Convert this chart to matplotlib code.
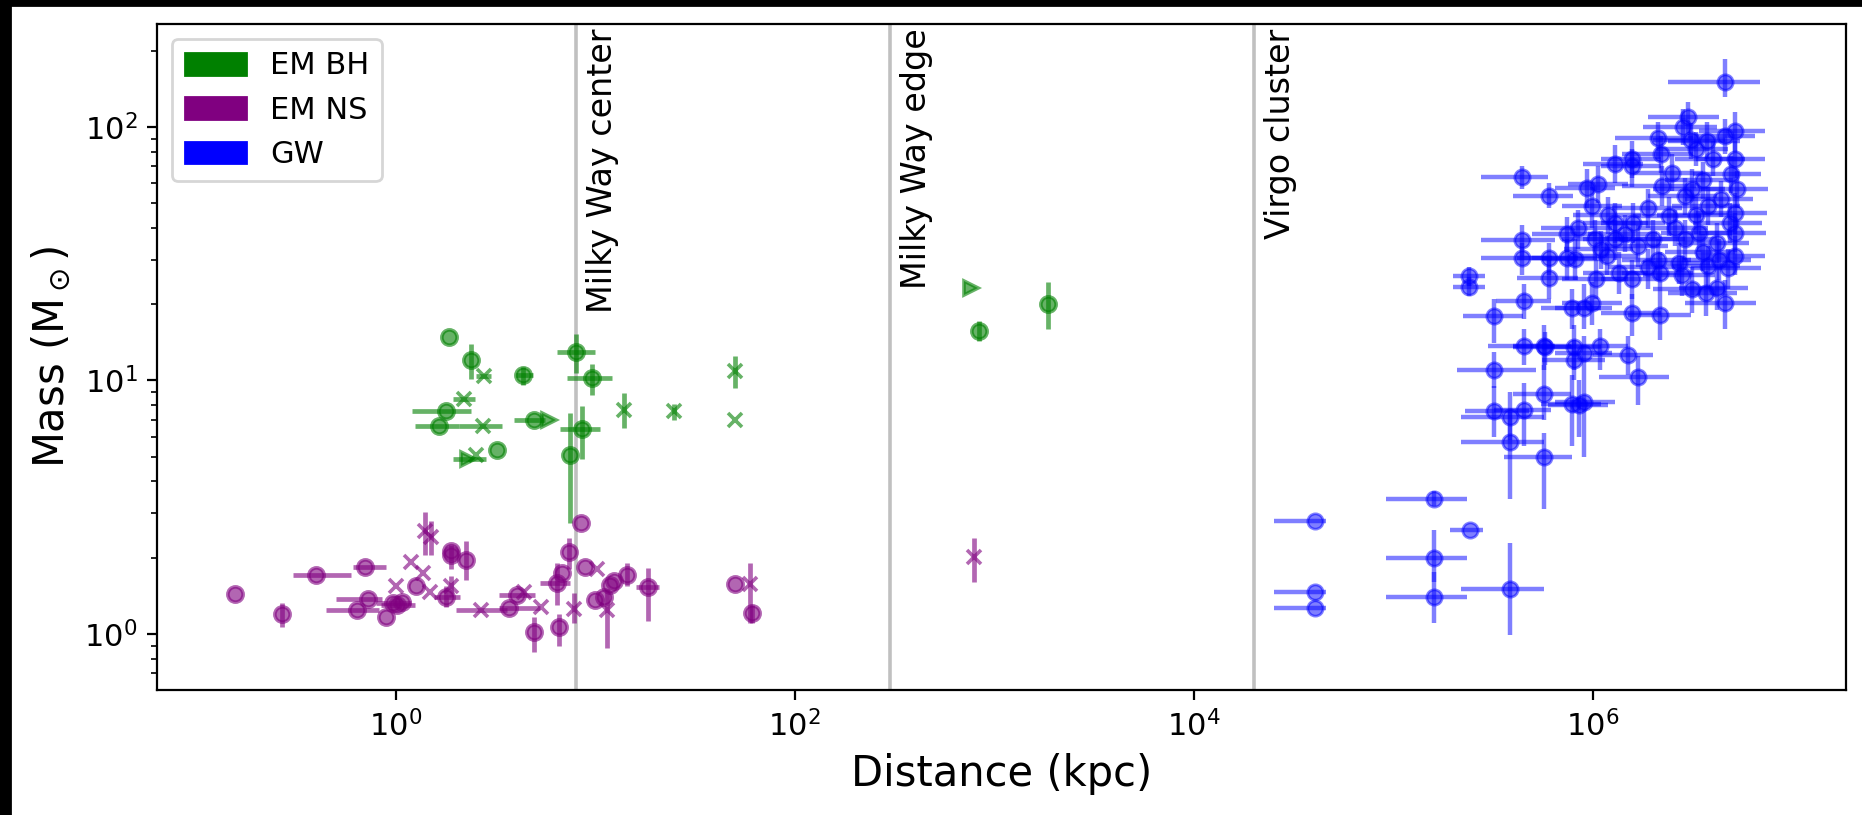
import numpy as np
import matplotlib
matplotlib.use("Agg")
import matplotlib.pyplot as plt
from matplotlib.patches import Patch, Rectangle
from matplotlib.ticker import NullLocator

# ---------------- data (distance in kpc, mass in solar masses) ----------------
# EM black holes
bh_dist = [1.86, 2.39, 2.78, 4.36, 8.05, 9.68, 2.21, 1.79, 1.66, 2.73, 4.95, 5.88,
           8.63, 7.48, 2.3, 2.53, 3.21, 14.0, 25.0, 50.3, 50.3, 766, 843, 1860]
bh_mass = [14.9, 12.0, 10.4, 10.5, 12.9, 10.2, 8.48, 7.61, 6.6, 6.6, 6.97, 6.97,
           6.44, 5.1, 4.9, 5.07, 5.3, 7.68, 7.56, 10.9, 7.0, 23.1, 15.7, 20.1]
bh_marker = ['o', 'o', 'x', 'o', 'o', 'o', 'x', 'o', 'o', 'x', 'o', '>',
             'o', 'o', '>', 'x', 'o', 'x', 'x', 'x', 'x', '>', 'o', 'o']
# points with distance / mass error bars: index, lower, upper
bh_xerr_idx = [2, 3, 4, 5, 6, 7, 8, 9, 10, 12, 14]
bh_xerr_lo = [2.53, 4.0, 6.45, 7.2, 1.95, 1.21, 1.25, 2.09, 3.93, 6.67, 1.93]
bh_xerr_hi = [3.0, 4.9, 10.05, 12.1, 2.5, 2.39, 2.09, 3.41, 5.6, 10.6, 2.84]
bh_yerr_idx = [1, 3, 4, 5, 12, 13, 17, 18, 19, 22, 23]
bh_yerr_lo = [10.1, 9.6, 10.7, 8.8, 4.9, 2.75, 6.5, 7.0, 9.35, 14.3, 15.9]
bh_yerr_hi = [13.9, 11.3, 15.2, 11.6, 7.9, 7.45, 8.93, 8.1, 12.5, 17.2, 24.4]

# EM neutron stars
ns_dist = [0.157, 0.269, 0.40, 0.70, 0.73, 0.64, 0.90, 0.97, 1.02, 1.08, 1.27, 1.00,
           1.20, 1.37, 1.40, 1.51, 1.48, 1.90, 1.90, 2.25, 1.79, 1.90, 2.68, 3.71,
           4.08, 4.40, 5.35, 4.95, 6.60, 6.47, 6.85, 7.40, 8.46, 7.80, 8.95, 10.2,
           10.05, 11.05, 11.95, 12.4, 11.5, 14.4, 18.4, 50.3, 59.8, 61.0, 795]
ns_mass = [1.44, 1.20, 1.71, 1.83, 1.37, 1.24, 1.17, 1.33, 1.30, 1.34, 1.55, 1.55,
           1.93, 1.74, 2.54, 2.42, 1.47, 2.05, 2.12, 1.96, 1.40, 1.54, 1.24, 1.27,
           1.43, 1.47, 1.28, 1.02, 1.07, 1.59, 1.74, 2.11, 2.74, 1.26, 1.83, 1.80,
           1.36, 1.40, 1.56, 1.62, 1.24, 1.71, 1.53, 1.57, 1.57, 1.21, 2.02]
ns_marker = list("ooooooooooo" "xxxxxx" "oooo" "xx" "oo" "xx" "oooooo"
                 "x" "o" "x" "oooo" "x" "ooo" "x" "o" "x")
ns_xerr_idx = [2, 3, 4, 5, 7, 8, 20, 22, 23, 24, 29, 42]
ns_xerr_lo = [0.305, 0.61, 0.50, 0.45, 0.80, 0.85, 1.55, 2.00, 3.30, 3.30, 5.30, 16.0]
ns_xerr_hi = [0.60, 0.90, 0.86, 0.83, 1.20, 1.25, 2.10, 3.64, 5.30, 5.00, 7.50, 21.0]
ns_yerr_idx = [1, 14, 15, 17, 19, 20, 21, 27, 28, 29, 31, 33, 40, 41, 42, 44, 45, 46]
ns_yerr_lo = [1.07, 2.05, 2.05, 1.80, 1.63, 1.28, 1.40, 0.85, 0.90, 1.30, 1.80, 1.10,
              0.88, 1.55, 1.12, 1.10, 1.10, 1.61]
ns_yerr_hi = [1.32, 3.04, 2.80, 2.25, 2.32, 1.55, 1.70, 1.17, 1.20, 1.90, 2.40, 1.45,
              1.50, 1.90, 1.82, 1.90, 1.30, 2.39]

# gravitational-wave events
gw_dist = [40.5e3, 40.5e3, 40.5e3, 161e3, 243e3, 161e3, 161e3, 384e3, 574e3, 384e3,
           384e3, 320e3, 453e3, 320e3, 574e3, 785e3, 860e3, 904e3, 1.69e6, 1.50e6,
           1.09e6, 805e3, 805e3, 904e3, 580e3, 453e3, 4.6e6, 444e3, 604e3, 239e3,
           239e3, 320e3, 444e3, 444e3, 453e3, 604e3, 604e3, 570e3, 745e3, 745e3,
           789e3, 904e3, 938e3, 994e3, 1.07e6, 1.30e6, 1.57e6, 1.57e6, 1.60e6, 1.30e6,
           1.57e6, 1.57e6, 2.18e6, 2.14e6, 2.85e6, 3.02e6, 3.73e6, 4.6e6, 5.16e6, 3.1e6,
           3.14e6, 2.22e6, 5.16e6, 4.96e6, 5.16e6, 5.2e6, 5.16e6, 4.8e6, 4.6e6, 4.19e6,
           3.14e6, 3.8e6, 2.9e6, 2.0e6, 2.43e6, 2.9e6, 3.8e6, 3.4e6, 2.18e6, 1.35e6,
           1.03e6, 1.04e6, 820e3, 1.18e6, 1.70e6, 2.14e6, 2.7e6, 3.7e6, 1.30e6, 994e3,
           1.2e6, 1.45e6, 1.9e6, 2.6e6, 3.3e6, 4.2e6, 4.4e6, 3.6e6, 2.5e6, 1.9e6,
           2.8e6, 3.6e6, 4.9e6, 5.3e6, 4.0e6, 1.1e6, 0.85e6, 2.2e6, 3.3e6, 4.3e6]
gw_dist_lo = [25.2e3, 25.2e3, 25.2e3, 92.5e3, 193e3, 92.5e3, 92.5e3, 220e3, 360e3, 220e3,
              220e3, 230e3, 320e3, 210e3, 400e3, 550e3, 600e3, 650e3, 1.08e6, 1.0e6,
              0.75e6, 560e3, 560e3, 650e3, 400e3, 300e3, 2.4e6, 275e3, 400e3, 200e3,
              200e3, 225e3, 275e3, 275e3, 330e3, 420e3, 420e3, 400e3, 500e3, 500e3,
              550e3, 650e3, 650e3, 700e3, 750e3, 900e3, 1.1e6, 1.1e6, 1.1e6, 900e3,
              1.1e6, 1.1e6, 1.5e6, 1.3e6, 1.8e6, 1.9e6, 2.4e6, 3.0e6, 3.4e6, 2.0e6,
              2.0e6, 1.4e6, 3.3e6, 3.2e6, 3.3e6, 3.4e6, 3.3e6, 3.1e6, 2.9e6, 2.7e6,
              2.0e6, 2.5e6, 1.9e6, 1.3e6, 1.6e6, 1.9e6, 2.5e6, 2.2e6, 1.4e6, 0.9e6,
              0.7e6, 0.7e6, 560e3, 800e3, 1.1e6, 1.4e6, 1.8e6, 2.4e6, 0.9e6, 700e3,
              0.8e6, 0.95e6, 1.25e6, 1.7e6, 2.1e6, 2.7e6, 2.9e6, 2.3e6, 1.6e6, 1.2e6,
              1.8e6, 2.3e6, 3.2e6, 3.5e6, 2.6e6, 0.72e6, 0.55e6, 1.4e6, 2.1e6, 2.8e6]
gw_dist_hi = [46.4e3, 46.4e3, 46.4e3, 236e3, 282e3, 236e3, 236e3, 569e3, 785e3, 569e3,
              569e3, 480e3, 620e3, 520e3, 780e3, 1.1e6, 1.2e6, 1.3e6, 2.43e6, 2.0e6,
              1.5e6, 1.1e6, 1.15e6, 1.25e6, 800e3, 650e3, 6.9e6, 600e3, 800e3, 290e3,
              290e3, 450e3, 650e3, 630e3, 620e3, 850e3, 850e3, 780e3, 1.05e6, 1.05e6,
              1.1e6, 1.25e6, 1.3e6, 1.4e6, 1.5e6, 1.8e6, 2.2e6, 2.2e6, 2.3e6, 1.9e6,
              2.2e6, 2.2e6, 3.1e6, 3.2e6, 4.2e6, 4.3e6, 5.5e6, 6.5e6, 7.3e6, 4.6e6,
              4.6e6, 3.3e6, 7.3e6, 7.0e6, 7.5e6, 7.4e6, 7.3e6, 7.0e6, 6.6e6, 6.0e6,
              4.6e6, 5.5e6, 4.2e6, 2.9e6, 3.5e6, 4.2e6, 5.5e6, 5.0e6, 3.2e6, 1.9e6,
              1.5e6, 1.5e6, 1.15e6, 1.7e6, 2.4e6, 3.1e6, 3.9e6, 5.3e6, 1.9e6, 1.4e6,
              1.75e6, 2.1e6, 2.8e6, 3.8e6, 4.8e6, 6.1e6, 6.4e6, 5.2e6, 3.6e6, 2.8e6,
              4.1e6, 5.2e6, 7.1e6, 7.6e6, 5.8e6, 1.6e6, 1.25e6, 3.2e6, 4.8e6, 6.2e6]
gw_mass = [2.8, 1.46, 1.27, 3.41, 2.58, 1.99, 1.40, 1.50, 4.99, 5.7,
           7.2, 7.6, 7.68, 11.0, 8.86, 8.1, 8.0, 8.2, 10.3, 12.6,
           13.7, 13.5, 12.1, 12.8, 13.5, 13.7, 151, 63.6, 53.6, 25.8,
           23.4, 17.9, 35.8, 30.5, 20.6, 30.5, 25.4, 13.7, 37.8, 30.5,
           19.4, 19.4, 57.7, 48.9, 59.5, 71.4, 74.8, 70.0, 42.0, 42.0,
           25.1, 18.5, 18.2, 90.5, 99.7, 110, 88.3, 91.8, 96.7, 89,
           56.9, 58.6, 74.8, 65, 46, 38.3, 31, 27.9, 20.3, 23.2,
           22.9, 28.3, 36, 36, 44.5, 53.6, 48.9, 38.3, 26.6, 26.6,
           36, 25.1, 30.1, 31, 34, 30, 29.2, 22.2, 36, 20.3,
           45, 38, 48, 40, 45, 35, 52, 62, 66, 28,
           26, 32, 42, 57, 75, 33, 40, 78, 82, 30]
gw_mass_lo = [2.8, 1.46, 1.27, 3.2, 2.58, 1.6, 1.10, 0.99, 3.1, 3.4,
              5.8, 6.0, 5.5, 9.3, 7.0, 5.5, 6.0, 5.0, 8.0, 10.5,
              11.0, 11.0, 10.0, 10.5, 11.5, 11.5, 131, 57, 48, 23.5,
              21.5, 14.0, 31, 26, 17.5, 26, 21, 11, 32, 25,
              16, 16, 48, 40, 50, 60, 63, 58, 35, 35,
              21, 15, 14.5, 75, 85, 95, 75, 78, 80, 75,
              47, 49, 63, 55, 38, 32, 26, 23, 16, 19,
              18.5, 23, 30, 30, 37, 45, 41, 32, 22, 22,
              30, 21, 25, 26, 28, 25, 24, 18, 30, 16.5,
              38, 32, 40, 34, 38, 29, 44, 52, 56, 23,
              21.5, 27, 35, 48, 64, 27.5, 33, 66, 70, 25]
gw_mass_hi = [2.8, 1.46, 1.27, 3.65, 2.58, 2.58, 1.75, 2.28, 6.2, 7.5,
              9.0, 9.5, 9.8, 13.0, 11.5, 10.5, 10.0, 10.5, 12.5, 15.0,
              16.0, 16.5, 14.5, 15.0, 15.5, 16.0, 185, 70, 60, 28,
              25.5, 21, 41, 35, 24, 35, 30, 16.5, 44, 36,
              23, 24, 68, 58, 70, 85, 88, 82, 50, 50,
              30, 22, 22, 105, 118, 125, 105, 108, 115, 104,
              68, 70, 88, 77, 55, 46, 37, 33, 25, 28,
              28, 34, 43, 43, 53, 63, 58, 45, 32, 32,
              43, 30, 36, 37, 41, 36, 35, 27, 43, 24.5,
              53, 45, 57, 47, 53, 42, 61, 73, 78, 33,
              31, 38, 50, 67, 88, 39, 47, 92, 96, 36]

# reference distances
ref_dist = [8.0, 300, 20000]
ref_label = ["Milky Way center", "Milky Way edge", "Virgo cluster"]

x_ticks = [1e0, 1e2, 1e4, 1e6]


def asym_err(vals, idx, lo, hi):
    err = np.zeros((2, len(vals)))
    for i, l, h in zip(idx, lo, hi):
        err[0, i] = vals[i] - l
        err[1, i] = h - vals[i]
    return err


def plot_em(ax, dist, mass, markers, xerr, yerr, color):
    for i in range(len(dist)):
        ms = 5.5 if markers[i] == 'o' else 5
        ax.errorbar(dist[i], mass[i],
                    xerr=[[xerr[0, i]], [xerr[1, i]]],
                    yerr=[[yerr[0, i]], [yerr[1, i]]],
                    fmt=markers[i], color=color, alpha=0.6, ms=ms,
                    mew=1.3, elinewidth=1.7)


fig = plt.figure(figsize=(9.31, 4.075), dpi=200)
ax = fig.add_axes([157 / 1862, 125 / 815, 1689 / 1862, 666 / 815])

bh_x = asym_err(bh_dist, bh_xerr_idx, bh_xerr_lo, bh_xerr_hi)
bh_y = asym_err(bh_mass, bh_yerr_idx, bh_yerr_lo, bh_yerr_hi)
plot_em(ax, bh_dist, bh_mass, bh_marker, bh_x, bh_y, 'green')

ns_x = asym_err(ns_dist, ns_xerr_idx, ns_xerr_lo, ns_xerr_hi)
ns_y = asym_err(ns_mass, ns_yerr_idx, ns_yerr_lo, ns_yerr_hi)
plot_em(ax, ns_dist, ns_mass, ns_marker, ns_x, ns_y, 'purple')

gw_d = np.array(gw_dist)
gw_m = np.array(gw_mass)
gw_xerr = [gw_d - np.array(gw_dist_lo), np.array(gw_dist_hi) - gw_d]
gw_yerr = [gw_m - np.array(gw_mass_lo), np.array(gw_mass_hi) - gw_m]
ax.errorbar(gw_d, gw_m, xerr=gw_xerr, yerr=gw_yerr, fmt='o', color='blue',
            alpha=0.5, ms=5.5, elinewidth=1.6)

ax.set_xscale('log')
ax.set_yscale('log')
ax.set_xlim(0.0637, 1.865e7)
ax.set_ylim(0.601, 255)
ax.set_xticks(x_ticks)
ax.xaxis.set_minor_locator(NullLocator())
ax.tick_params(labelsize=11)

for x, label in zip(ref_dist, ref_label):
    ax.axvline(x, color='silver', lw=1.3, zorder=0)
    ax.text(x * 1.13, 245, label, rotation=90, va='top', ha='left', fontsize=12)

ax.set_xlabel('Distance (kpc)', fontsize=15)
ax.set_ylabel(r'Mass (M$_\odot$)', fontsize=15)

handles = [Patch(color='green', label='EM BH'),
           Patch(color='purple', label='EM NS'),
           Patch(color='blue', label='GW')]
ax.legend(handles=handles, loc='upper left', fontsize=11)

# dark frame strips seen at the top and left of the picture
fig.patches.append(Rectangle((0, 1 - 5 / 815), 1, 5 / 815, transform=fig.transFigure,
                             color='black', zorder=10))
fig.patches.append(Rectangle((0, 0), 10 / 1862, 1, transform=fig.transFigure,
                             color='black', zorder=10))

fig.savefig('out.png', dpi=200)
